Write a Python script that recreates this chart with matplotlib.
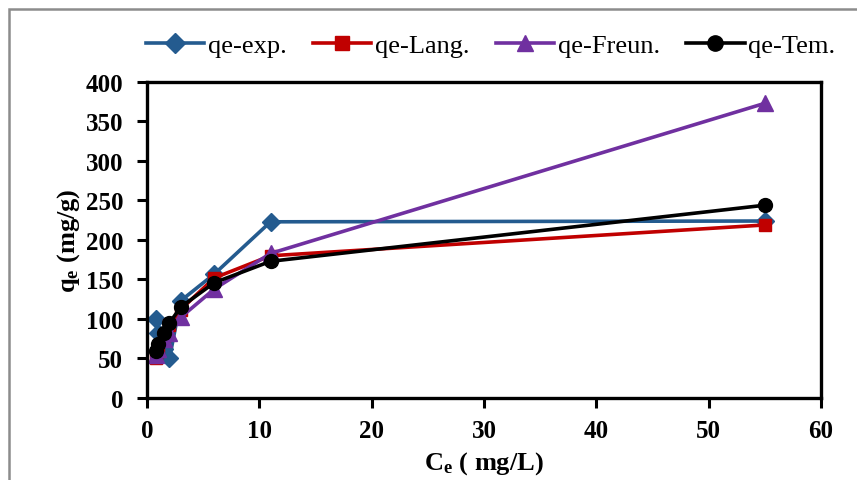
import matplotlib
matplotlib.use('Agg')
import matplotlib.pyplot as plt
from matplotlib.patches import Rectangle

# data
ce = [0.8, 1.0, 1.5, 2.0, 3.0, 6.0, 11.0, 55.0]
qe_exp = [100, 82, 62, 50, 123, 157, 223, 224]
qe_lang = [50, 60, 78, 92, 112, 152, 180, 219]
qe_freun = [55, 62, 75, 82, 102, 138, 183, 373]
qe_tem = [60, 68, 82, 95, 115, 146, 173, 244]

x_ticks = [0, 10, 20, 30, 40, 50, 60]
y_ticks = [0, 50, 100, 150, 200, 250, 300, 350, 400]

plt.rcParams['font.family'] = 'Liberation Serif'
plt.rcParams['mathtext.fontset'] = 'custom'
plt.rcParams['mathtext.rm'] = 'Liberation Serif'
plt.rcParams['mathtext.bf'] = 'Liberation Serif:bold'

fig = plt.figure(figsize=(8.57, 4.81), dpi=100)
ax = fig.add_axes([0.1715, 0.1705, 0.7865, 0.657])

# gray outer frame (partially cut like the original screenshot)
fig.patches.append(Rectangle((0.0105, -0.1), 1.2, 1.079, transform=fig.transFigure,
                             fill=False, edgecolor='#8c8c8c', linewidth=1.8))

ax.plot(ce, qe_exp, color='#245B8F', lw=2.6, marker='D', ms=9, label='qe-exp.')
ax.plot(ce, qe_lang, color='#C00000', lw=2.6, marker='s', ms=9, label='qe-Lang.')
ax.plot(ce, qe_freun, color='#7030A0', lw=2.6, marker='^', ms=11, label='qe-Freun.')
ax.plot(ce, qe_tem, color='black', lw=2.6, marker='o', ms=10, label='qe-Tem.')

ax.set_xlim(0, 60)
ax.set_ylim(0, 400)
ax.set_xticks(x_ticks)
ax.set_yticks(y_ticks)
for lbl in ax.get_xticklabels() + ax.get_yticklabels():
    lbl.set_fontweight('bold')
    lbl.set_fontsize(18)

for sp in ax.spines.values():
    sp.set_linewidth(2.4)
ax.tick_params(direction='out', length=7, width=2.2)
ax.tick_params(axis='y', pad=10)
ax.tick_params(axis='x', pad=8)

ax.set_ylabel(r'$\mathbf{q_e}$ (mg/g)', fontsize=19, fontweight='bold', labelpad=3)
ax.set_xlabel(r'$\mathbf{C_e}$ ( mg/L)', fontsize=19, fontweight='bold', labelpad=5)

ax.legend(loc='lower center', bbox_to_anchor=(0.51, 1.045), ncol=4, frameon=False,
          fontsize=19, handlelength=2.2, handletextpad=0.15, columnspacing=1.0,
          borderaxespad=0, markerscale=1.1)

fig.savefig('out.png', dpi=100)
